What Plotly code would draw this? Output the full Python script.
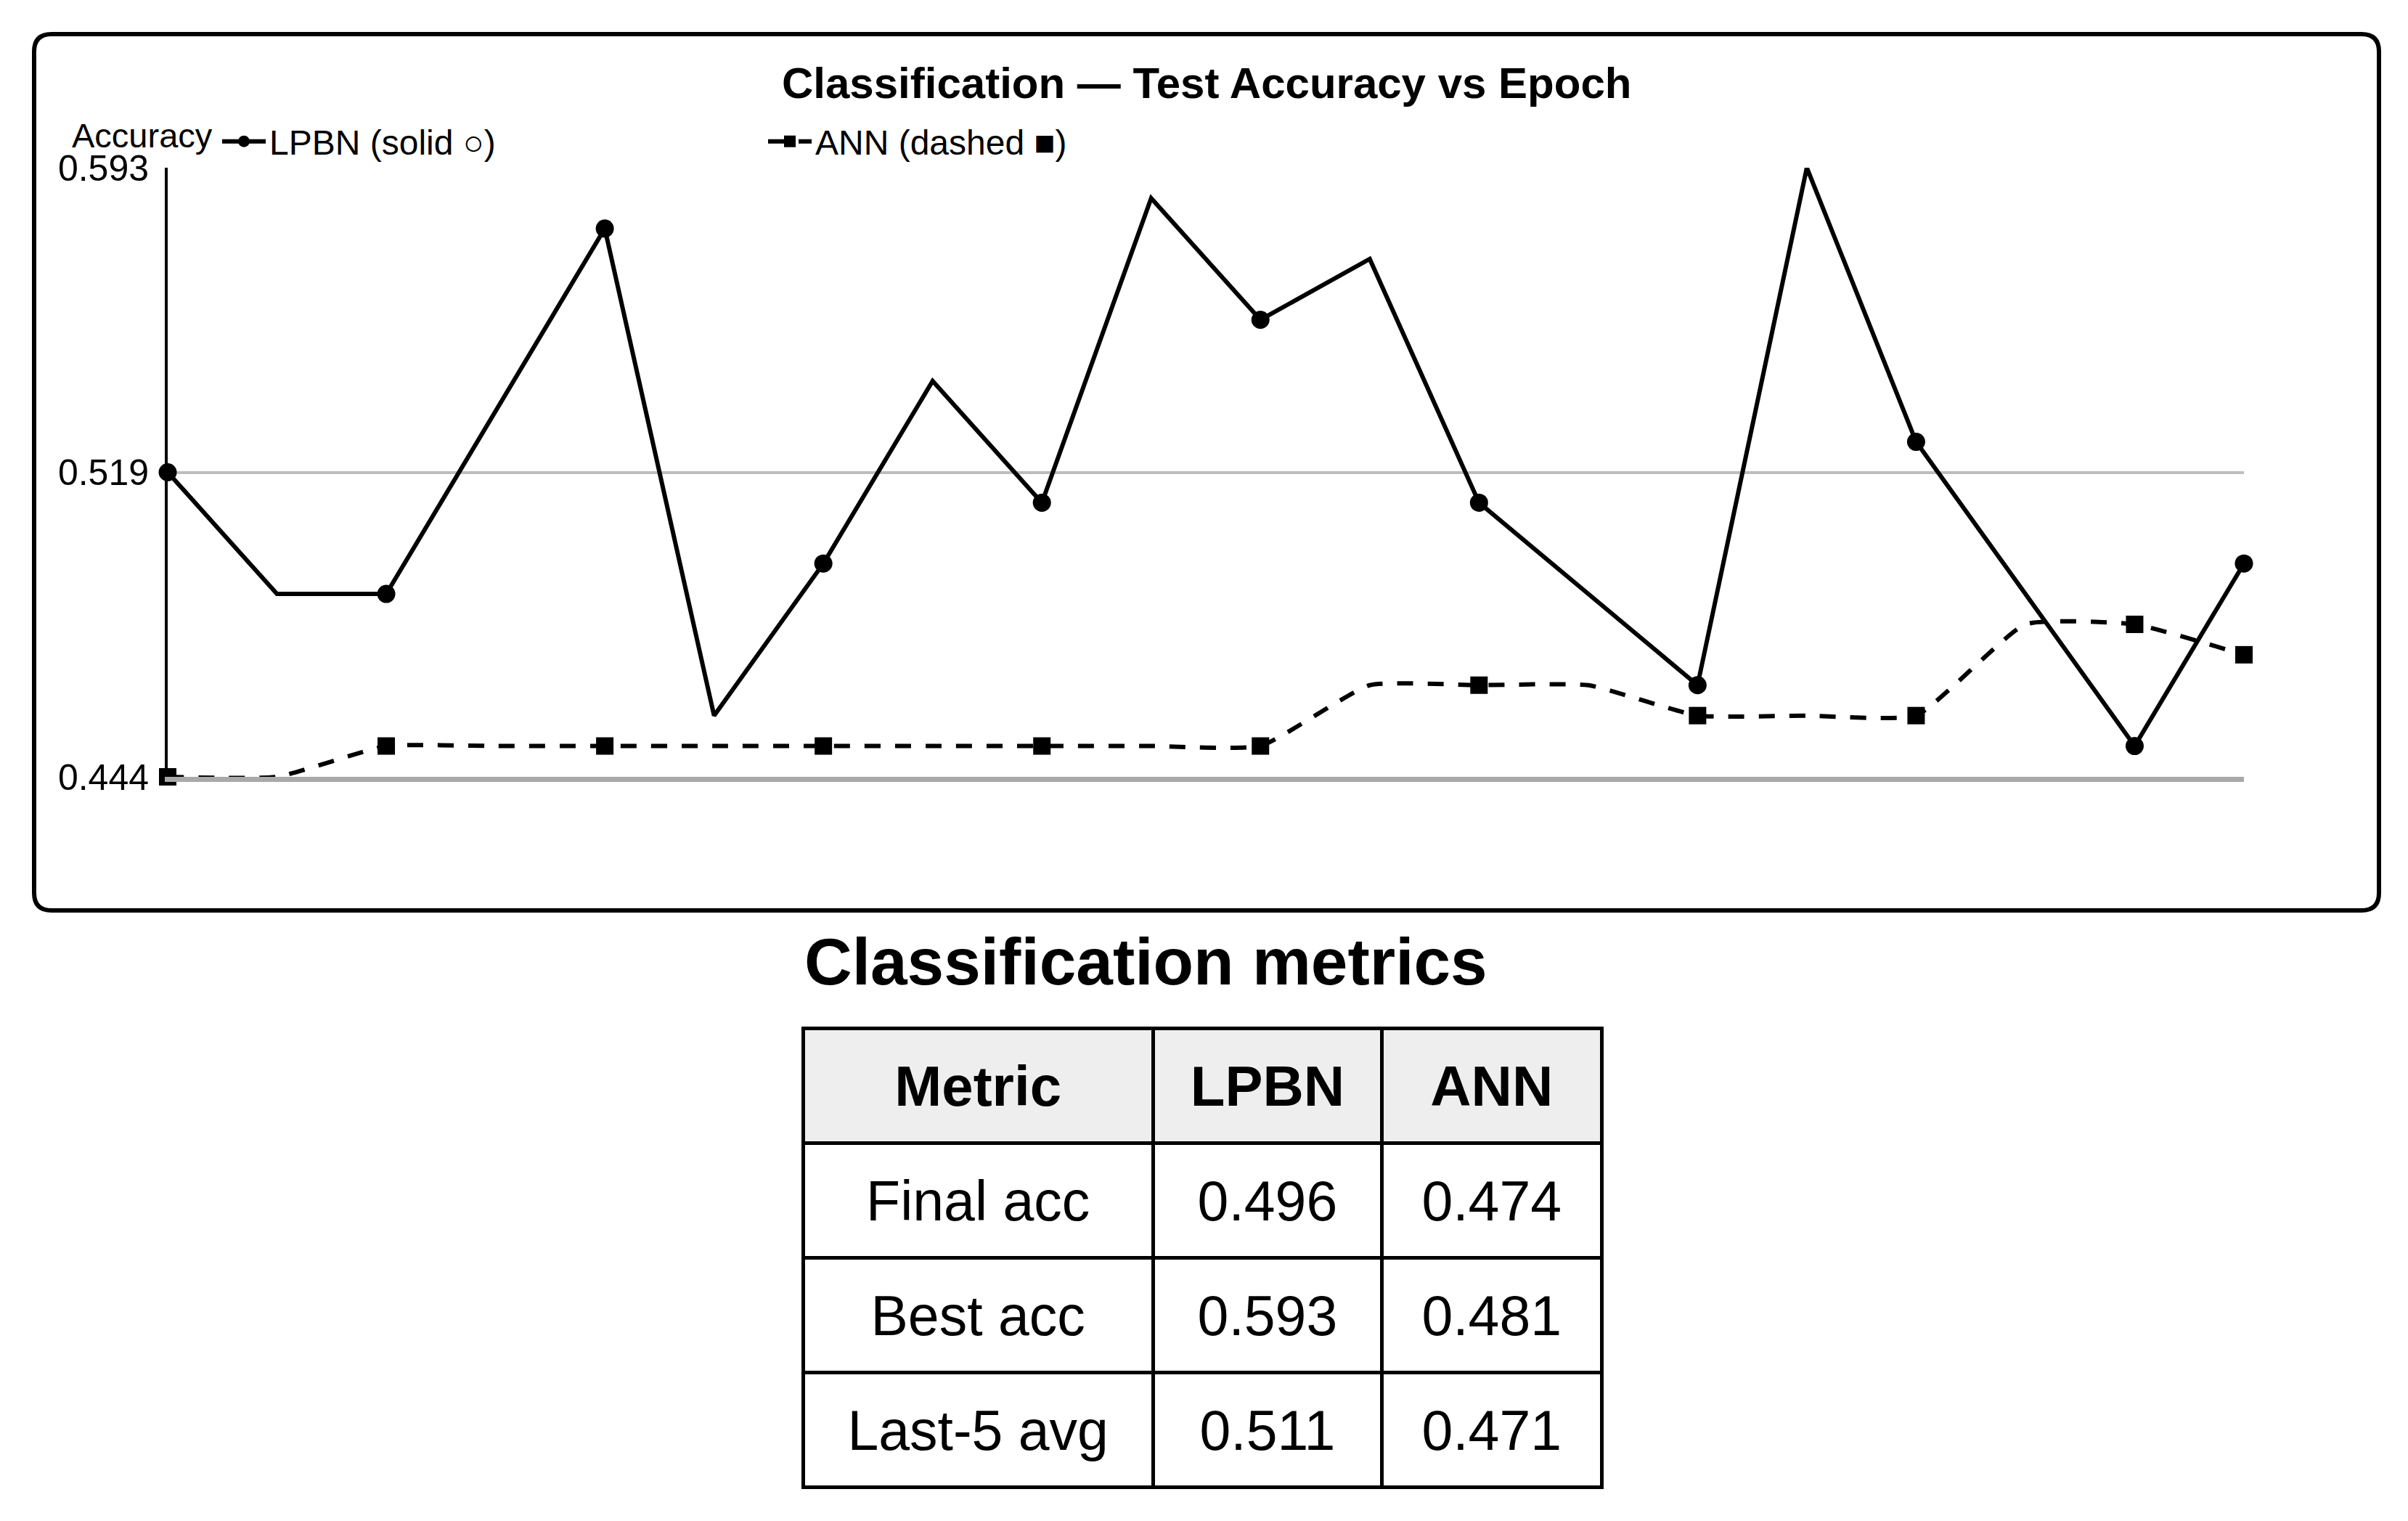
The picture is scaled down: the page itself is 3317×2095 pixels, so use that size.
import plotly.graph_objects as go

W, H = 3317, 2095
OFF = 8  # page body margin compensation
FONT = "Liberation Sans, Arial, Helvetica, sans-serif"

# ---------------- data ----------------
epochs = list(range(1, 21))
lpbn_acc = [0.5185, 0.4889, 0.4889, 0.5333, 0.5778, 0.4593, 0.4963, 0.5407, 0.5111, 0.5852,
            0.5556, 0.5704, 0.5111, 0.4889, 0.4667, 0.5926, 0.5259, 0.4889, 0.4519, 0.4963]
ann_acc = [0.4444, 0.4444, 0.4519, 0.4519, 0.4519, 0.4519, 0.4519, 0.4519, 0.4519, 0.4519,
           0.4519, 0.4667, 0.4667, 0.4667, 0.4593, 0.4593, 0.4593, 0.4815, 0.4815, 0.4741]
ytick_vals = [0.4444, 0.5185, 0.5926]
ytick_text = ["0.444", "0.519", "0.593"]

table_header = ["Metric", "LPBN", "ANN"]
metric_names = ["Final acc", "Best acc", "Last-5 avg"]
lpbn_metrics = ["0.496", "0.593", "0.511"]
ann_metrics = ["0.474", "0.481", "0.471"]

# ---------------- helpers ----------------
def px(x):
    return (x - OFF) / W

def py(y):
    return 1 - (y - OFF) / H

# a short blank first line pushes the cell text down to the middle of the row
def cell_text(values, size, bold=False):
    out = []
    for v in values:
        t = f"<b>{v}</b>" if bold else v
        out.append(f'<span style="font-size:20px">&nbsp;</span><br>'
                   f'<span style="font-size:{size}px">{t}</span>')
    return out

n = len(epochs)
shown = [(i % 2 == 0) or (i == n - 1) for i in range(n)]
mcolors = ["black" if s else "rgba(0,0,0,0)" for s in shown]

fig = go.Figure()

fig.add_trace(go.Scatter(
    x=epochs, y=lpbn_acc, name="LPBN (solid ○)", mode="lines+markers",
    line=dict(color="black", width=6),
    marker=dict(symbol="circle", size=25, color=mcolors, line=dict(width=0)),
    cliponaxis=False,
))
fig.add_trace(go.Scatter(
    x=epochs, y=ann_acc, name="ANN (dashed ■)", mode="lines+markers",
    line=dict(color="black", width=6, dash="22px,20px", shape="spline", smoothing=0.45),
    marker=dict(symbol="square", size=24, color=mcolors, line=dict(width=0)),
    cliponaxis=False,
))

# plot area
x0p, x1p, y0p, y1p = 231, 3091, 231, 1070

fig.update_xaxes(
    domain=[px(x0p), px(x1p)], range=[epochs[0], epochs[-1]],
    showgrid=False, zeroline=False, showticklabels=False, ticks="",
    showline=True, linecolor="#a9a9a9", linewidth=7, automargin=False,
)
fig.update_yaxes(
    domain=[py(y1p), py(y0p)], range=[min(ann_acc), max(lpbn_acc)],
    tickvals=ytick_vals, ticktext=ytick_text, ticks="", ticklabelstandoff=12,
    tickfont=dict(size=50, family=FONT, color="black"),
    showgrid=True, gridcolor="#bdbdbd", gridwidth=4, zeroline=False,
    showline=True, linecolor="black", linewidth=4, automargin=False,
)

# table
fig.add_trace(go.Table(
    domain=dict(x=[px(1106), px(2206)], y=[py(2058), py(1416)]),
    columnwidth=[228, 149, 143],
    header=dict(
        values=cell_text(table_header, 78, bold=True),
        fill_color="#eeeeee", line=dict(color="black", width=5),
        font=dict(size=62, family=FONT, color="black"), height=158, align="center",
    ),
    cells=dict(
        values=[cell_text(metric_names, 77), cell_text(lpbn_metrics, 77),
                cell_text(ann_metrics, 77)],
        fill_color="white", line=dict(color="black", width=5),
        font=dict(size=62, family=FONT, color="black"), height=158, align="center",
    ),
))

# container rounded box
bx0, by0, bx1, by1, r = 47, 47, 3277, 1254, 24
path = (
    f"M {px(bx0 + r)},{py(by0)} L {px(bx1 - r)},{py(by0)} "
    f"Q {px(bx1)},{py(by0)} {px(bx1)},{py(by0 + r)} "
    f"L {px(bx1)},{py(by1 - r)} Q {px(bx1)},{py(by1)} {px(bx1 - r)},{py(by1)} "
    f"L {px(bx0 + r)},{py(by1)} Q {px(bx0)},{py(by1)} {px(bx0)},{py(by1 - r)} "
    f"L {px(bx0)},{py(by0 + r)} Q {px(bx0)},{py(by0)} {px(bx0 + r)},{py(by0)} Z"
)
fig.add_shape(type="path", path=path, xref="paper", yref="paper",
              line=dict(color="black", width=6), layer="below")

fig.add_annotation(
    text="<b>Classification — Test Accuracy vs Epoch</b>", x=px(1662), y=py(114),
    xref="paper", yref="paper", xanchor="center", yanchor="middle", showarrow=False,
    font=dict(size=60, family=FONT, color="black"),
)
fig.add_annotation(
    text="Accuracy", x=px(97), y=py(186), xref="paper", yref="paper",
    xanchor="left", yanchor="middle", showarrow=False,
    font=dict(size=47, family=FONT, color="black"),
)
fig.add_annotation(
    text="<b>Classification metrics</b>", x=px(1106), y=py(1324), xref="paper", yref="paper",
    xanchor="left", yanchor="middle", showarrow=False,
    font=dict(size=91, family=FONT, color="black"),
)

fig.update_layout(
    width=W, height=H, margin=dict(l=0, r=0, t=0, b=0, autoexpand=False),
    paper_bgcolor="white", plot_bgcolor="white",
    font=dict(family=FONT, color="black"),
    showlegend=True,
    legend=dict(
        orientation="h", x=px(301), y=py(195), xanchor="left", yanchor="middle",
        font=dict(size=48, family=FONT, color="black"),
        bgcolor="rgba(0,0,0,0)", entrywidth=677, entrywidthmode="pixels",
        itemwidth=60,
    ),
)

fig.write_html("out.html")
